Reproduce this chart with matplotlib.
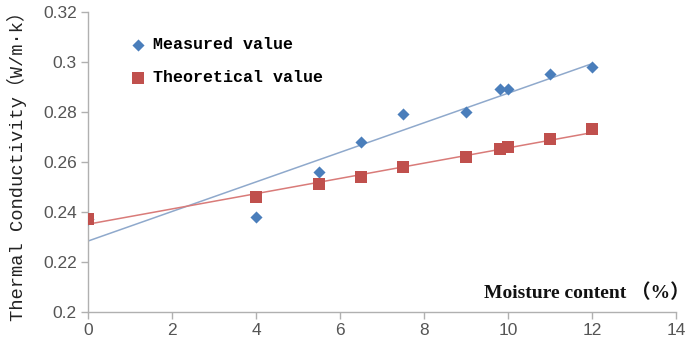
import numpy as np
import matplotlib
matplotlib.use("Agg")
import matplotlib.pyplot as plt

# moisture content (%) and thermal conductivity (W/m·k)
measured_x = [0, 4, 5.5, 6.5, 7.5, 9, 9.8, 10, 11, 12]
measured_y = [0.237, 0.238, 0.256, 0.268, 0.279, 0.280, 0.289, 0.289, 0.295, 0.298]
theory_x = [0, 4, 5.5, 6.5, 7.5, 9, 9.8, 10, 11, 12]
theory_y = [0.237, 0.246, 0.251, 0.254, 0.258, 0.262, 0.265, 0.266, 0.269, 0.273]

x_ticks = [0, 2, 4, 6, 8, 10, 12, 14]
y_ticks = [0.2, 0.22, 0.24, 0.26, 0.28, 0.3, 0.32]
y_tick_labels = ["0.2", "0.22", "0.24", "0.26", "0.28", "0.3", "0.32"]

blue = "#4a7ebb"
red = "#c0504d"

fig = plt.figure(figsize=(6.9, 3.41), dpi=100)
ax = fig.add_axes([0.1275, 0.085, 0.8525, 0.88])

# linear trend lines over 0..12
xs = np.array([0, 12])
kb, bb = np.polyfit(measured_x, measured_y, 1)
kr, br = np.polyfit(theory_x, theory_y, 1)
ax.plot(xs, kb * xs + bb, color="#8fa9cc", lw=1.1, zorder=2)
ax.plot(xs, kr * xs + br, color="#d97b79", lw=1.1, zorder=2)

ax.scatter(measured_x, measured_y, marker="D", s=38, color=blue,
           label="Measured value", zorder=3, linewidths=0)
ax.scatter(theory_x, theory_y, marker="s", s=72, color=red,
           label="Theoretical value", zorder=4, linewidths=0)

ax.set_xlim(0, 14)
ax.set_ylim(0.2, 0.32)
ax.set_xticks(x_ticks)
ax.set_yticks(y_ticks)
ax.set_yticklabels(y_tick_labels)
for lab in ax.get_xticklabels() + ax.get_yticklabels():
    lab.set_family("Liberation Sans")
    lab.set_fontsize(12.5)
    lab.set_color("#555555")

for side in ("top", "right"):
    ax.spines[side].set_visible(False)
for side in ("left", "bottom"):
    ax.spines[side].set_color("#b0b0b0")
    ax.spines[side].set_linewidth(1.0)
ax.tick_params(length=5, width=1, color="#b0b0b0", pad=3)

leg = ax.legend(loc="upper left", bbox_to_anchor=(0.045, 0.965), frameon=False,
                prop={"family": "Liberation Mono", "weight": "bold", "size": 12},
                handletextpad=0.4, labelspacing=1.05, handlelength=1.0,
                scatterpoints=1)

fig.text(0.024, 0.525, "Thermal Conductivity（W/m·k）", rotation=90,
         ha="center", va="center", fontsize=13.5,
         family=["Liberation Mono", "Noto Sans CJK SC"], color="#222222")

fig.text(1.0, 0.141, "Moisture content （%）",
         ha="right", va="center", fontsize=14, fontweight="bold",
         family=["Liberation Serif", "Noto Sans CJK SC"], color="#111111")

fig.savefig("out.png", dpi=100)
